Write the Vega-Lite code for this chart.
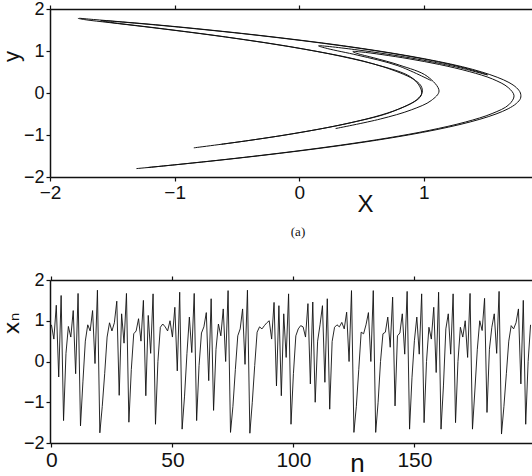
{
"$schema": "https://vega.github.io/schema/vega-lite/v6.json",
"padding": {"left": 0, "top": 0, "right": 0, "bottom": 0},
"background": "white",
"bounds": "flush",
"spacing": 103,
"config": {
 "view": {"stroke": null},
 "axis": {"grid": false, "domainColor": "#111", "domainWidth": 1.5, "tickColor": "#111", "tickWidth": 1.2, "tickSize": 4, "labelColor": "#111", "labelFont": "Liberation Sans", "titleFont": "Liberation Sans", "titleColor": "#111", "titleFontWeight": "normal", "labelFlush": false, "labelPadding": 2}
},
"datasets": {
 "att": [
  {"s":"A","i":0,"x":-1.765,"y":1.78},{"s":"A","i":1,"x":-1.65,"y":1.75},{"s":"A","i":2,"x":-1.15,"y":1.625},{"s":"A","i":3,"x":-0.717,"y":1.5},{"s":"A","i":4,"x":-0.325,"y":1.375},{"s":"A","i":5,"x":0.03,"y":1.25},{"s":"A","i":6,"x":0.354,"y":1.125},{"s":"A","i":7,"x":0.64,"y":1.0},{"s":"A","i":8,"x":0.895,"y":0.875},{"s":"A","i":9,"x":1.118,"y":0.75},{"s":"A","i":10,"x":1.31,"y":0.625},{"s":"A","i":11,"x":1.465,"y":0.5},{"s":"A","i":12,"x":1.589,"y":0.375},{"s":"A","i":13,"x":1.683,"y":0.25},{"s":"A","i":14,"x":1.744,"y":0.125},{"s":"A","i":15,"x":1.775,"y":0},{"s":"A","i":16,"x":1.776,"y":-0.125},{"s":"A","i":17,"x":1.742,"y":-0.25},{"s":"A","i":18,"x":1.677,"y":-0.375},{"s":"A","i":19,"x":1.579,"y":-0.5},{"s":"A","i":20,"x":1.45,"y":-0.625},{"s":"A","i":21,"x":1.29,"y":-0.75},{"s":"A","i":22,"x":1.098,"y":-0.875},{"s":"A","i":23,"x":0.875,"y":-1.0},{"s":"A","i":24,"x":0.62,"y":-1.125},{"s":"A","i":25,"x":0.333,"y":-1.25},{"s":"A","i":26,"x":0.013,"y":-1.375},{"s":"A","i":27,"x":-0.336,"y":-1.5},{"s":"A","i":28,"x":-0.717,"y":-1.625},{"s":"A","i":29,"x":-1.13,"y":-1.75},{"s":"A","i":30,"x":-1.306,"y":-1.8},
  {"s":"I","i":0,"x":-1.776,"y":1.777},{"s":"I","i":1,"x":-1.71,"y":1.742},{"s":"I","i":2,"x":-1.525,"y":1.677},{"s":"I","i":3,"x":-1.243,"y":1.579},{"s":"I","i":4,"x":-0.89,"y":1.45},{"s":"I","i":5,"x":-0.489,"y":1.29},{"s":"I","i":6,"x":-0.068,"y":1.098},{"s":"I","i":7,"x":0.334,"y":0.875},{"s":"I","i":8,"x":0.678,"y":0.62},{"s":"I","i":9,"x":0.914,"y":0.333},{"s":"I","i":10,"x":0.977,"y":0.17},{"s":"I","i":11,"x":0.987,"y":0.013},{"s":"I","i":12,"x":0.943,"y":-0.16},{"s":"I","i":13,"x":0.837,"y":-0.336},{"s":"I","i":14,"x":0.662,"y":-0.52},{"s":"I","i":15,"x":0.398,"y":-0.717},{"s":"I","i":16,"x":0.048,"y":-0.92},{"s":"I","i":17,"x":-0.402,"y":-1.13},{"s":"I","i":18,"x":-0.846,"y":-1.306},
  {"s":"J","i":0,"x":-1.221,"y":-1.776},{"s":"J","i":1,"x":-1.001,"y":-1.71},{"s":"J","i":2,"x":-0.711,"y":-1.62},{"s":"J","i":3,"x":-0.423,"y":-1.525},{"s":"J","i":4,"x":-0.043,"y":-1.39},{"s":"J","i":5,"x":0.329,"y":-1.243},{"s":"J","i":6,"x":0.711,"y":-1.07},{"s":"J","i":7,"x":1.043,"y":-0.89},{"s":"J","i":8,"x":1.335,"y":-0.69},{"s":"J","i":9,"x":1.548,"y":-0.489},{"s":"J","i":10,"x":1.682,"y":-0.28},{"s":"J","i":11,"x":1.724,"y":-0.068},{"s":"J","i":12,"x":1.677,"y":0.13},{"s":"J","i":13,"x":1.551,"y":0.334},{"s":"J","i":14,"x":1.365,"y":0.51},{"s":"J","i":15,"x":1.126,"y":0.678},{"s":"J","i":16,"x":0.888,"y":0.81},{"s":"J","i":17,"x":0.665,"y":0.914},{"s":"J","i":18,"x":0.4965,"y":0.977},{"s":"J","i":19,"x":0.43,"y":0.987},{"s":"J","i":20,"x":0.463,"y":0.943},{"s":"J","i":21,"x":0.599,"y":0.837},{"s":"J","i":22,"x":0.806,"y":0.662},{"s":"J","i":23,"x":1.027,"y":0.398},{"s":"J","i":24,"x":1.122,"y":0.048},{"s":"J","i":25,"x":1.059,"y":-0.18},{"s":"J","i":26,"x":0.899,"y":-0.402},{"s":"J","i":27,"x":0.65,"y":-0.62},{"s":"J","i":28,"x":0.292,"y":-0.846},
  {"s":"K","i":0,"x":-0.624,"y":-1.221},{"s":"K","i":1,"x":-0.115,"y":-1.001},{"s":"K","i":2,"x":0.409,"y":-0.711},{"s":"K","i":3,"x":0.764,"y":-0.423},{"s":"K","i":4,"x":0.981,"y":-0.043},{"s":"K","i":5,"x":0.919,"y":0.329},{"s":"K","i":6,"x":0.5735,"y":0.711},{"s":"K","i":7,"x":0.045,"y":1.043},{"s":"K","i":8,"x":-0.589,"y":1.335},{"s":"K","i":9,"x":-1.143,"y":1.548},{"s":"K","i":10,"x":-1.513,"y":1.682},{"s":"K","i":11,"x":-1.592,"y":1.724},{"s":"K","i":12,"x":-1.373,"y":1.677},{"s":"K","i":13,"x":-0.906,"y":1.551},{"s":"K","i":14,"x":-0.31,"y":1.365},{"s":"K","i":15,"x":0.335,"y":1.126},{"s":"K","i":16,"x":0.8545,"y":0.888},{"s":"K","i":17,"x":1.232,"y":0.665},{"s":"K","i":18,"x":1.4465,"y":0.4965},{"s":"K","i":19,"x":1.511,"y":0.43},{"s":"K","i":20,"x":1.469,"y":0.463},{"s":"K","i":21,"x":1.292,"y":0.599},{"s":"K","i":22,"x":0.949,"y":0.806},{"s":"K","i":23,"x":0.464,"y":1.027},{"s":"K","i":24,"x":0.155,"y":1.122},{"s":"K","i":25,"x":0.225,"y":1.059},{"s":"K","i":26,"x":0.471,"y":0.899},{"s":"K","i":27,"x":0.7915,"y":0.65},{"s":"K","i":28,"x":1.061,"y":0.292}
 ],
 "ts": [
  {"n":0,"v":0.9},{"n":1,"v":0.55},{"n":2,"v":1.38},{"n":3,"v":-0.38},{"n":4,"v":1.62},{"n":5,"v":-1.45},{"n":6,"v":0.2},{"n":7,"v":0.86},{"n":8,"v":0.6},{"n":9,"v":1.25},
  {"n":10,"v":-0.3},{"n":11,"v":1.67},{"n":12,"v":-1.58},{"n":13,"v":-0.5},{"n":14,"v":0.5},{"n":15,"v":0.9},{"n":16,"v":0.75},{"n":17,"v":1.25},{"n":18,"v":-0.05},{"n":19,"v":1.75},
  {"n":20,"v":-1.75},{"n":21,"v":-1.1},{"n":22,"v":-0.3},{"n":23,"v":0.6},{"n":24,"v":0.95},{"n":25,"v":0.75},{"n":26,"v":0.95},{"n":27,"v":1.48},{"n":28,"v":-0.83},{"n":29,"v":1.17},
  {"n":30,"v":0.45},{"n":31,"v":1.67},{"n":32,"v":-1.49},{"n":33,"v":-0.2},{"n":34,"v":0.68},{"n":35,"v":0.75},{"n":36,"v":1.05},{"n":37,"v":0.5},{"n":38,"v":1.5},{"n":39,"v":-0.84},
  {"n":40,"v":1.13},{"n":41,"v":0.2},{"n":42,"v":1.66},{"n":43,"v":-1.54},{"n":44,"v":0.0},{"n":45,"v":0.84},{"n":46,"v":0.92},{"n":47,"v":0.85},{"n":48,"v":0.75},{"n":49,"v":1.0},
  {"n":50,"v":0.6},{"n":51,"v":1.33},{"n":52,"v":-0.23},{"n":53,"v":1.7},{"n":54,"v":-1.66},{"n":55,"v":-0.85},{"n":56,"v":0.2},{"n":57,"v":1.09},{"n":58,"v":0.22},{"n":59,"v":1.67},
  {"n":60,"v":-1.45},{"n":61,"v":-0.1},{"n":62,"v":0.7},{"n":63,"v":0.85},{"n":64,"v":1.2},{"n":65,"v":-0.47},{"n":66,"v":1.54},{"n":67,"v":-1.2},{"n":68,"v":0.3},{"n":69,"v":0.92},
  {"n":70,"v":0.63},{"n":71,"v":1.29},{"n":72,"v":0.0},{"n":73,"v":1.74},{"n":74,"v":-1.74},{"n":75,"v":-1.1},{"n":76,"v":-0.2},{"n":77,"v":0.63},{"n":78,"v":0.8},{"n":79,"v":1.29},
  {"n":80,"v":-0.07},{"n":81,"v":1.75},{"n":82,"v":-1.76},{"n":83,"v":-1.0},{"n":84,"v":-0.1},{"n":85,"v":0.72},{"n":86,"v":0.85},{"n":87,"v":0.8},{"n":88,"v":0.88},{"n":89,"v":0.95},
  {"n":90,"v":1.0},{"n":91,"v":0.55},{"n":92,"v":1.45},{"n":93,"v":-0.6},{"n":94,"v":1.37},{"n":95,"v":-0.84},{"n":96,"v":1.17},{"n":97,"v":0.1},{"n":98,"v":1.66},{"n":99,"v":-1.54},
  {"n":100,"v":-0.3},{"n":101,"v":0.63},{"n":102,"v":0.8},{"n":103,"v":0.88},{"n":104,"v":0.85},{"n":105,"v":0.6},{"n":106,"v":1.42},{"n":107,"v":-0.55},{"n":108,"v":1.46},{"n":109,"v":-1.0},
  {"n":110,"v":0.5},{"n":111,"v":0.9},{"n":112,"v":1.37},{"n":113,"v":-0.51},{"n":114,"v":1.54},{"n":115,"v":-1.17},{"n":116,"v":0.49},{"n":117,"v":0.84},{"n":118,"v":0.9},{"n":119,"v":0.85},
  {"n":120,"v":0.96},{"n":121,"v":0.8},{"n":122,"v":1.21},{"n":123,"v":0.0},{"n":124,"v":1.74},{"n":125,"v":-1.74},{"n":126,"v":-1.1},{"n":127,"v":-0.2},{"n":128,"v":0.72},{"n":129,"v":0.68},
  {"n":130,"v":0.9},{"n":131,"v":1.2},{"n":132,"v":0.0},{"n":133,"v":1.74},{"n":134,"v":-1.74},{"n":135,"v":-1.0},{"n":136,"v":0.0},{"n":137,"v":0.68},{"n":138,"v":0.72},{"n":139,"v":1.09},
  {"n":140,"v":0.35},{"n":141,"v":1.58},{"n":142,"v":-1.09},{"n":143,"v":0.63},{"n":144,"v":0.7},{"n":145,"v":1.17},{"n":146,"v":0.18},{"n":147,"v":1.72},{"n":148,"v":-1.66},{"n":149,"v":-0.4},
  {"n":150,"v":0.51},{"n":151,"v":1.09},{"n":152,"v":0.18},{"n":153,"v":1.66},{"n":154,"v":-1.5},{"n":155,"v":0.0},{"n":156,"v":0.84},{"n":157,"v":0.55},{"n":158,"v":1.33},{"n":159,"v":-0.27},
  {"n":160,"v":1.7},{"n":161,"v":-1.66},{"n":162,"v":-0.6},{"n":163,"v":0.8},{"n":164,"v":1.17},{"n":165,"v":0.18},{"n":166,"v":1.66},{"n":167,"v":-1.5},{"n":168,"v":0.0},{"n":169,"v":0.84},
  {"n":170,"v":0.6},{"n":171,"v":1.0},{"n":172,"v":0.1},{"n":173,"v":1.67},{"n":174,"v":-1.66},{"n":175,"v":-0.7},{"n":176,"v":0.3},{"n":177,"v":1.0},{"n":178,"v":0.76},{"n":179,"v":1.55},
  {"n":180,"v":-1.25},{"n":181,"v":0.3},{"n":182,"v":0.84},{"n":183,"v":1.17},{"n":184,"v":0.2},{"n":185,"v":1.72},{"n":186,"v":-1.78},{"n":187,"v":-1.1},{"n":188,"v":-0.3},{"n":189,"v":0.5},
  {"n":190,"v":0.88},{"n":191,"v":0.8},{"n":192,"v":0.95},{"n":193,"v":1.29},{"n":194,"v":-0.55},{"n":195,"v":1.5},{"n":196,"v":-1.54},{"n":197,"v":0.0},{"n":198,"v":0.9}
 ]
},
"vconcat": [
 {
  "width": 482, "height": 168,
  "data": {"name": "att"},
  "layer": [
   {"mark": {"type": "line", "interpolate": "catmull-rom", "color": "#111", "strokeWidth": 1},
    "encoding": {
     "x": {"field": "x", "type": "quantitative", "scale": {"domain": [-2, 1.868], "nice": false, "zero": false},
      "axis": {"values": [-2, -1, 0, 1], "labelFontSize": 19, "title": "X", "titleFontSize": 24, "titleX": 315, "titleY": 34, "titleBaseline": "alphabetic", "titleAlign": "center"}},
     "y": {"field": "y", "type": "quantitative", "scale": {"domain": [-2, 2], "nice": false, "zero": false},
      "axis": {"values": [-2, -1, 0, 1, 2], "labelFontSize": 18, "title": "y", "titleFontSize": 22, "titleX": -32, "titleY": 47, "titleBaseline": "alphabetic", "titleAngle": -90, "titleAlign": "center"}},
     "detail": {"field": "s"},
     "order": {"field": "i"}
    }},
   {"mark": {"type": "line", "opacity": 0},
    "encoding": {
     "x": {"field": "x", "type": "quantitative", "axis": {"orient": "top", "values": [-2, -1, 0, 1], "labels": false, "title": null}},
     "detail": {"field": "s"},
     "order": {"field": "i"}
    }}
  ],
  "resolve": {"axis": {"x": "independent"}}
 },
 {
  "width": 482, "height": 163,
  "title": {"text": "(a)", "font": "Liberation Serif", "fontSize": 13, "fontWeight": "normal", "color": "#111", "offset": 32, "dx": 7},
  "data": {"name": "ts"},
  "layer": [
   {"mark": {"type": "line", "color": "#111", "strokeWidth": 0.9},
    "encoding": {
     "x": {"field": "n", "type": "quantitative", "scale": {"domain": [-0.6, 198.6], "nice": false, "zero": false},
      "axis": {"values": [0, 50, 100, 150], "labelFontSize": 21, "title": "n", "titleFontSize": 26, "titleX": 307, "titleY": 28, "titleBaseline": "alphabetic", "titleAlign": "center"}},
     "y": {"field": "v", "type": "quantitative", "scale": {"domain": [-2, 2], "nice": false, "zero": false},
      "axis": {"values": [-2, -1, 0, 1, 2], "labelFontSize": 18, "title": "xₙ", "titleFont": "DejaVu Sans", "titleFontSize": 22, "titleX": -32, "titleY": 43, "titleBaseline": "alphabetic", "titleAngle": -90, "titleAlign": "center"}}
    }},
   {"mark": {"type": "line", "opacity": 0},
    "encoding": {
     "x": {"field": "n", "type": "quantitative", "axis": {"orient": "top", "values": [0, 50, 100, 150], "labels": false, "title": null}}
    }}
  ],
  "resolve": {"axis": {"x": "independent"}}
 }
]
}
